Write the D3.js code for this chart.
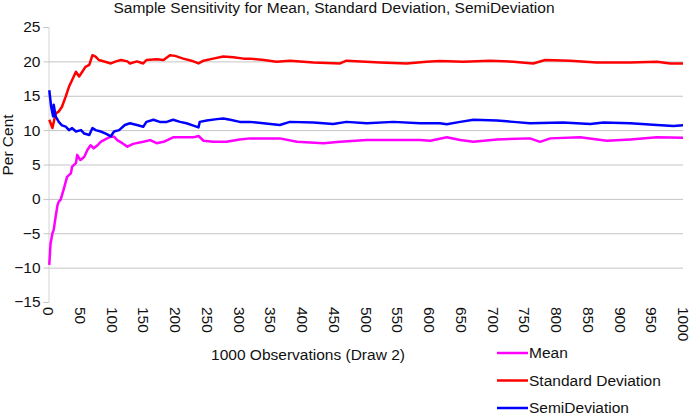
<!DOCTYPE html>
<html>
<head>
<meta charset="utf-8">
<script src="https://cdn.jsdelivr.net/npm/d3@7"></script>
<style>
	body { margin: 0; background: #fff; }
	svg { display: block; font-family: "Liberation Sans", Arial, sans-serif; }
</style>
</head>
<body>
<svg id="chart" width="695" height="420"></svg>
<script>
var meanObs = [2, 4, 7, 9, 12, 15, 17, 20, 25, 30, 36, 38, 44, 46, 51, 57, 62, 67, 72, 78,
	83, 88, 93, 99, 104, 109, 117, 125, 134, 150, 161, 171, 182, 197, 213, 229, 237, 245, 260, 281,
	302, 318, 365, 392, 434, 460, 502, 544, 586, 602, 628, 649, 670, 707, 759, 775, 791, 838, 880, 917,
	959, 1000];
var meanVals = [-9.6, -6.5, -5.0, -4.5, -2.6, -0.9, -0.4, -0.1, 1.5, 3.2, 3.7, 4.7, 5.2, 6.4, 5.65, 6.1, 7.1, 7.8, 7.35, 7.8,
	8.3, 8.55, 8.8, 9.05, 9.05, 8.55, 8.1, 7.6, 8.0, 8.3, 8.55, 8.1, 8.3, 8.95, 8.95, 8.95, 9.15, 8.45, 8.3, 8.3,
	8.65, 8.8, 8.8, 8.3, 8.1, 8.3, 8.55, 8.55, 8.55, 8.45, 8.95, 8.55, 8.3, 8.65, 8.8, 8.3, 8.8, 8.95, 8.45, 8.65,
	8.95, 8.9];

var stdObs = [2, 7, 12, 17, 22, 28, 33, 38, 44, 49, 54, 59, 65, 70, 75, 80, 90, 99, 107, 115,
	125, 129, 140, 150, 155, 171, 182, 192, 200, 213, 226, 237, 245, 260, 276, 292, 308, 318, 340, 360,
	381, 418, 460, 470, 523, 565, 596, 617, 654, 696, 733, 764, 783, 822, 864, 917, 959, 980, 1000];
var stdVals = [11.5, 10.3, 12.4, 12.7, 13.4, 14.9, 16.3, 17.3, 18.5, 17.8, 18.5, 19.2, 19.5, 20.9, 20.7, 20.2, 19.95, 19.7, 20.0, 20.2,
	20.0, 19.7, 20.0, 19.7, 20.2, 20.3, 20.2, 20.9, 20.8, 20.4, 20.1, 19.7, 20.1, 20.4, 20.7, 20.6, 20.4, 20.4, 20.2, 19.95,
	20.1, 19.85, 19.7, 20.1, 19.85, 19.7, 19.95, 20.05, 19.95, 20.1, 19.95, 19.7, 20.2, 20.1, 19.85, 19.85, 19.95, 19.7, 19.7];

var semiObs = [2, 5, 8, 9, 12, 17, 22, 28, 33, 38, 44, 52, 57, 65, 70, 75, 83, 91, 99, 104,
	112, 121, 129, 140, 150, 155, 166, 176, 187, 197, 208, 218, 229, 237, 239, 250, 266, 276, 287, 302,
	318, 365, 381, 418, 449, 470, 502, 544, 586, 617, 628, 649, 670, 707, 733, 759, 811, 854, 875, 917,
	959, 985, 1000];
var semiVals = [15.8, 13.4, 12.0, 13.7, 12.0, 11.2, 10.7, 10.5, 10.0, 10.3, 9.8, 10.0, 9.5, 9.3, 10.3, 10.0, 9.8, 9.5, 9.1, 9.8,
	10.0, 10.75, 11.0, 10.75, 10.5, 11.2, 11.5, 11.2, 11.2, 11.5, 11.2, 11.0, 10.65, 10.4, 11.2, 11.4, 11.6, 11.7, 11.5, 11.2,
	11.2, 10.75, 11.2, 11.1, 10.9, 11.2, 11.0, 11.2, 11.0, 11.0, 10.85, 11.2, 11.5, 11.4, 11.2, 11.0, 11.1, 10.9, 11.1, 11.0,
	10.75, 10.6, 10.7];

var seriesNames = ["Mean", "Standard Deviation", "SemiDeviation"];
var seriesColors = ["#ff00ff", "#ff0000", "#0000ff"];
var yTicks = [-15, -10, -5, 0, 5, 10, 15, 20, 25];
var xTicks = d3.range(0, 1001, 50);

var chartTitle = "Sample Sensitivity for Mean, Standard Deviation, SemiDeviation";
var xTitle = "1000 Observations (Draw 2)";
var yTitle = "Per Cent";

var series = [
	{ name: seriesNames[0], color: seriesColors[0], obs: meanObs, vals: meanVals },
	{ name: seriesNames[1], color: seriesColors[1], obs: stdObs, vals: stdVals },
	{ name: seriesNames[2], color: seriesColors[2], obs: semiObs, vals: semiVals }
];

var fontSize = 15.5;
var textColor = "#111";

var svg = d3.select("#chart");

var x = d3.scaleLinear().domain([0, 1000]).range([48, 683]);
var y = d3.scaleLinear().domain([-15, 25]).range([302, 27]);

// gridlines
svg.append("g")
	.attr("class", "grid")
	.selectAll("line")
	.data(yTicks.filter(function(d) { return d > -15 && d < 25; }))
	.enter().append("line")
	.attr("x1", x(0))
	.attr("x2", x(1000))
	.attr("y1", function(d) { return y(d) + 0.5; })
	.attr("y2", function(d) { return y(d) + 0.5; })
	.attr("stroke", "#c4c4c4")
	.attr("stroke-width", 1);

// y axis
var yAxis = svg.append("g")
	.attr("transform", "translate(" + (x(0) + 0.5) + ",0)")
	.call(d3.axisLeft(y).tickValues(yTicks).tickSize(5).tickPadding(3));

yAxis.select(".domain").attr("stroke", "#d4d4d4");
yAxis.selectAll(".tick line").attr("stroke", "#c4c4c4");
yAxis.selectAll(".tick text")
	.attr("font-size", fontSize)
	.attr("fill", textColor)
	.attr("font-family", "Liberation Sans, Arial, sans-serif");

// x tick labels, rotated
var xAxis = svg.append("g")
	.attr("transform", "translate(0," + y(-15) + ")")
	.call(d3.axisBottom(x).tickValues(xTicks).tickFormat(d3.format("d")).tickSize(0).tickPadding(0));

xAxis.select(".domain").remove();
xAxis.selectAll(".tick text")
	.attr("font-size", fontSize)
	.attr("fill", textColor)
	.attr("font-family", "Liberation Sans, Arial, sans-serif")
	.attr("text-anchor", "start")
	.attr("transform", "rotate(90)")
	.attr("x", 5)
	.attr("y", 0)
	.attr("dy", "0.35em");

// series lines
var line = d3.line()
	.x(function(d) { return x(d[0]); })
	.y(function(d) { return y(d[1]); });

svg.append("g")
	.attr("class", "lines")
	.selectAll("path")
	.data(series)
	.enter().append("path")
	.attr("fill", "none")
	.attr("stroke", function(d) { return d.color; })
	.attr("stroke-width", 2.5)
	.attr("stroke-linejoin", "round")
	.attr("d", function(d) {
		return line(d.obs.map(function(o, i) { return [o, d.vals[i]]; }));
	});

// titles
svg.append("text")
	.attr("x", 334)
	.attr("y", 13)
	.attr("text-anchor", "middle")
	.attr("font-size", fontSize)
	.attr("fill", textColor)
	.text(chartTitle);

svg.append("text")
	.attr("x", 308)
	.attr("y", 360)
	.attr("text-anchor", "middle")
	.attr("font-size", fontSize)
	.attr("fill", textColor)
	.text(xTitle);

svg.append("text")
	.attr("transform", "translate(13,145) rotate(-90)")
	.attr("text-anchor", "middle")
	.attr("font-size", fontSize)
	.attr("fill", textColor)
	.text(yTitle);

// legend
var legend = svg.append("g")
	.attr("class", "legend")
	.selectAll("g")
	.data(series)
	.enter().append("g")
	.attr("transform", function(d, i) { return "translate(497," + (353 + i * 27.5) + ")"; });

legend.append("line")
	.attr("x1", 0)
	.attr("x2", 31)
	.attr("stroke", function(d) { return d.color; })
	.attr("stroke-width", 2.5);

legend.append("text")
	.attr("x", 32)
	.attr("dy", "0.35em")
	.attr("font-size", fontSize)
	.attr("fill", textColor)
	.text(function(d) { return d.name; });
</script>
</body>
</html>
